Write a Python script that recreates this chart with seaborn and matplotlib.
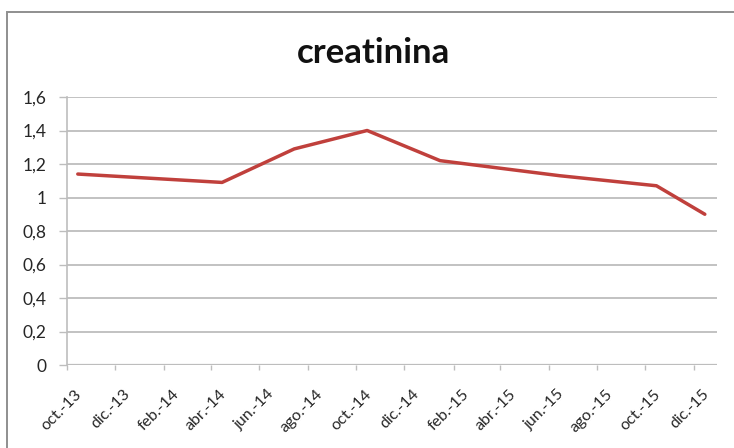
import matplotlib
matplotlib.use("Agg")
import matplotlib.pyplot as plt
from matplotlib.patches import Rectangle
from matplotlib.transforms import ScaledTranslation
import seaborn as sns
import pandas as pd

# Creatinine measurements
fechas = ["2013-10-15", "2014-04-15", "2014-07-15", "2014-10-15",
          "2015-01-15", "2015-06-15", "2015-10-15", "2015-12-15"]
creatinina = [1.14, 1.09, 1.29, 1.40, 1.22, 1.13, 1.07, 0.90]

# Axis ticks every two months
tick_fechas = ["2013-10-01", "2013-12-01", "2014-02-01", "2014-04-01",
               "2014-06-01", "2014-08-01", "2014-10-01", "2014-12-01",
               "2015-02-01", "2015-04-01", "2015-06-01", "2015-08-01",
               "2015-10-01", "2015-12-01"]
tick_labels = ["oct.-13", "dic.-13", "feb.-14", "abr.-14", "jun.-14", "ago.-14",
               "oct.-14", "dic.-14", "feb.-15", "abr.-15", "jun.-15", "ago.-15",
               "oct.-15", "dic.-15"]
y_ticks = [0, 0.2, 0.4, 0.6, 0.8, 1.0, 1.2, 1.4, 1.6]
y_labels = ["0", "0,2", "0,4", "0,6", "0,8", "1", "1,2", "1,4", "1,6"]

df = pd.DataFrame({"fecha": pd.to_datetime(fechas), "creatinina": creatinina})

sns.set_style("white")
plt.rcParams["font.family"] = ["Lato", "DejaVu Sans"]

W, H = 734, 448
fig = plt.figure(figsize=(W / 100, H / 100), dpi=100)
fig.patch.set_facecolor("white")

# chart frame (open to the right and bottom)
fig.add_artist(Rectangle((7 / W, -0.1), 1.2, 1 - 12 / H + 0.1,
                         transform=fig.transFigure, fill=False,
                         edgecolor="#8f8f8f", linewidth=1.4))

ax = fig.add_axes([66.7 / W, 1 - 365 / H, (716.7 - 66.7) / W, (365 - 97) / H])

sns.lineplot(data=df, x="fecha", y="creatinina", ax=ax,
             color="#c0403c", linewidth=2.5, zorder=3)

ax.set_xlim(pd.Timestamp("2013-10-01"), pd.Timestamp("2015-12-30"))
ax.set_ylim(0, 1.6)

ax.set_yticks(y_ticks)
ax.set_yticklabels(y_labels)
ax.set_xticks(pd.to_datetime(tick_fechas))
ax.set_xticklabels(tick_labels, rotation=45, ha="right", va="center",
                   rotation_mode="anchor")

ax.grid(axis="y", color="#bdbdbd", linewidth=1.3)
ax.grid(axis="x", visible=False)
for side in ["top", "right", "bottom"]:
    ax.spines[side].set_visible(False)
ax.spines["left"].set_color("#bdbdbd")
ax.spines["left"].set_linewidth(1.2)
ax.axhline(0, color="#bdbdbd", linewidth=1.6, zorder=2)

ax.tick_params(axis="y", direction="out", length=5.8, width=1, color="#bdbdbd",
               labelsize=12.5, labelcolor="#262626", pad=8.6, left=True)
ax.tick_params(axis="x", direction="out", length=3.6, width=1, color="#bdbdbd",
               labelsize=11.5, labelcolor="#262626", pad=15.8, bottom=True)

# shift rotated date labels so their ends sit to the right of each tick
shift = ScaledTranslation(13 / 100, 0, fig.dpi_scale_trans)
for lbl in ax.get_xticklabels():
    lbl.set_transform(lbl.get_transform() + shift)

ax.set_xlabel("")
ax.set_ylabel("")

fig.text(374 / W, 1 - 62.7 / H, "creatinina", ha="center", va="baseline",
         fontsize=25, fontweight="bold", color="#111111")

fig.savefig("out.png", dpi=100, facecolor="white")
